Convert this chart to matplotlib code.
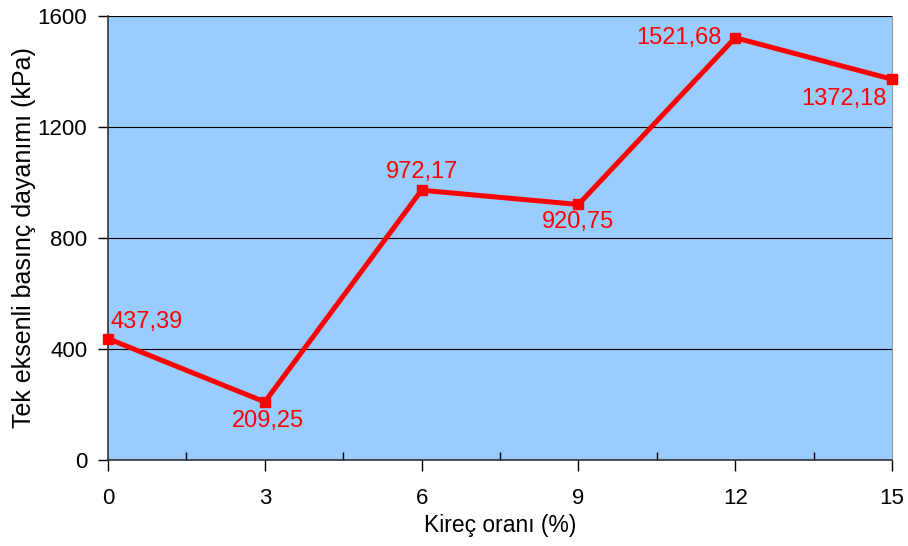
import matplotlib
matplotlib.use("Agg")
import matplotlib.pyplot as plt
from matplotlib.ticker import MultipleLocator

lime_ratio = [0, 3, 6, 9, 12, 15]
strength = [437.39, 209.25, 972.17, 920.75, 1521.68, 1372.18]
value_labels = ["437,39", "209,25", "972,17", "920,75", "1521,68", "1372,18"]
y_ticks = [0, 400, 800, 1200, 1600]

# label offsets in points (dx, dy) and alignment
offsets = [(2, 4, "left", "bottom"), (2, -6, "center", "top"), (0, 5, "center", "bottom"),
           (0, -5, "center", "top"), (-10, 0, "right", "center"), (-4, -6, "right", "top")]

plt.rcParams["font.family"] = ["Liberation Sans", "DejaVu Sans"]

fig = plt.figure(figsize=(9.08, 5.46), dpi=100)
ax = fig.add_axes([108/908, 1-460/546, 784/908, 444/546])
ax.set_facecolor("#99CCFF")

ax.set_xlim(0, 15)
ax.set_ylim(0, 1600)
ax.set_yticks(y_ticks)
ax.set_xticks(lime_ratio)
ax.xaxis.set_minor_locator(MultipleLocator(1.5))
ax.yaxis.grid(True, color="black", linewidth=0.8)
ax.set_axisbelow(True)

ax.tick_params(axis="x", which="major", direction="out", length=8, width=1, labelsize=16, pad=12, colors="black")
ax.tick_params(axis="x", which="minor", direction="in", length=6, width=1)
ax.tick_params(axis="y", direction="out", length=7, width=1, labelsize=16, pad=8)

for s in ["left", "bottom"]:
    ax.spines[s].set_color("#333333")
    ax.spines[s].set_linewidth(1.2)
ax.spines["right"].set_color("#999999")
ax.spines["top"].set_visible(False)

ax.plot(lime_ratio, strength, color="#FF0000", linewidth=3.6, marker="s", markersize=7.5,
        clip_on=False, zorder=3)

for x, y, lab, (dx, dy, ha, va) in zip(lime_ratio, strength, value_labels, offsets):
    ax.annotate(lab, (x, y), xytext=(dx, dy), textcoords="offset points",
                ha=ha, va=va, color="#FF0000", fontsize=17, zorder=4)

ax.set_xlabel("Kireç oranı (%)", fontsize=16.5, labelpad=4)
ax.set_ylabel("Tek eksenli basınç dayanımı (kPa)", fontsize=18, labelpad=14)
ax.yaxis.set_label_coords(-0.092, 0.5)

fig.savefig("out.png", dpi=100)
